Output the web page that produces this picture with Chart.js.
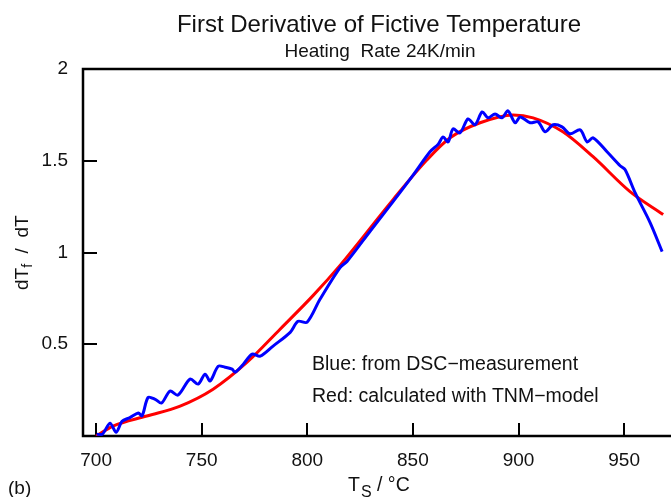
<!DOCTYPE html>
<html>
<head>
<meta charset="utf-8">
<title>First Derivative of Fictive Temperature</title>
<script src="https://cdn.jsdelivr.net/npm/chart.js@4.4.1/dist/chart.umd.min.js"></script>
<style>
  html, body { margin: 0; padding: 0; background: #fff; }
  canvas { display: block; }
</style>
</head>
<body>
<canvas id="chart" width="671" height="497"></canvas>
<script>
// DSC measurement (blue)
const dscTemp = [700.3, 703, 706.6, 709.5, 712.3, 716, 720, 721.8, 724.6, 728, 731, 735, 738.8, 744.5, 748.3,
    751.6, 754, 757.8, 761, 764.4, 765.8, 769.6, 773.9, 777.7, 783.8, 791.9, 795.6, 799.9, 806, 815.5,
    818.8, 830, 840.6, 850, 858.1, 862, 864.3, 866.7, 869, 872.3, 876.1, 879.4, 882.8, 885.6, 888.9,
    892.2, 895, 898.4, 900.8, 905.5, 909.3, 912.6, 916.4, 920.6, 924.4, 929.2, 932.5, 935.3, 941.9,
    948.1, 950.5, 955.2, 962.3, 968];
const dscValues = [0.01, 0.01, 0.07, 0.02, 0.08, 0.10, 0.125, 0.11, 0.21, 0.20, 0.18, 0.245, 0.223, 0.31, 0.283,
    0.337, 0.30, 0.38, 0.375, 0.364, 0.348, 0.39, 0.446, 0.435, 0.49, 0.565, 0.625, 0.62, 0.745, 0.918,
    0.951, 1.12, 1.277, 1.42, 1.549, 1.59, 1.63, 1.603, 1.674, 1.652, 1.728, 1.696, 1.766, 1.734, 1.755,
    1.734, 1.772, 1.707, 1.739, 1.707, 1.712, 1.658, 1.696, 1.685, 1.647, 1.668, 1.603, 1.625, 1.549,
    1.473, 1.451, 1.326, 1.163, 1.005];

// TNM model (red)
const tnmTemp = [700, 708, 724, 739.8, 755.4, 771.5, 787.1, 802.7, 815.5, 840.6, 856.7, 867.6, 881.8,
    897.4, 906.9, 921, 935.3, 952.8, 968.5];
const tnmValues = [0.0, 0.054, 0.109, 0.163, 0.255, 0.402, 0.582, 0.765, 0.93, 1.288, 1.505, 1.625, 1.707,
    1.75, 1.734, 1.658, 1.522, 1.332, 1.207];

const xTicks = [700, 750, 800, 850, 900, 950];
const yTicks = [0.5, 1, 1.5, 2];
const yTickLabels = ['0.5', '1', '1.5', '2'];

const FONT = '"Liberation Sans", Arial, Helvetica, sans-serif';

const framePlugin = {
    id: 'frame',
    beforeDatasetsDraw(chart) {
        const { ctx, chartArea: a, scales: { x, y } } = chart;
        ctx.save();
        ctx.strokeStyle = '#000';
        ctx.lineWidth = 2.5;
        ctx.beginPath();
        ctx.moveTo(a.right + 2, a.top);
        ctx.lineTo(a.left, a.top);
        ctx.lineTo(a.left, a.bottom);
        ctx.lineTo(a.right + 2, a.bottom);
        ctx.stroke();
        // inward ticks
        ctx.lineWidth = 2;
        ctx.beginPath();
        xTicks.forEach(v => {
            const px = Math.round(x.getPixelForValue(v));
            ctx.moveTo(px, a.bottom);
            ctx.lineTo(px, a.bottom - 13);
        });
        yTicks.slice(0, 3).forEach(v => {
            const py = Math.round(y.getPixelForValue(v));
            ctx.moveTo(a.left, py);
            ctx.lineTo(a.left + 14, py);
        });
        ctx.stroke();
        ctx.restore();
    },
    afterDraw(chart) {
        const { ctx, chartArea: a, scales: { x, y } } = chart;
        ctx.save();
        ctx.fillStyle = '#111';

        // tick labels
        ctx.font = '19px ' + FONT;
        ctx.textAlign = 'center';
        ctx.textBaseline = 'alphabetic';
        xTicks.forEach(v => ctx.fillText(String(v), x.getPixelForValue(v), 466));
        ctx.textAlign = 'right';
        ctx.textBaseline = 'middle';
        yTicks.forEach((v, i) => ctx.fillText(yTickLabels[i], 68, y.getPixelForValue(v)));

        // titles
        ctx.textAlign = 'center';
        ctx.textBaseline = 'alphabetic';
        ctx.font = '24px ' + FONT;
        ctx.fillText('First Derivative of Fictive Temperature', 379, 32);
        ctx.font = '19px ' + FONT;
        ctx.fillText('Heating  Rate 24K/min', 380, 57);

        // notes inside the plot
        ctx.textAlign = 'left';
        ctx.font = '19.5px ' + FONT;
        ctx.fillText('Blue: from DSC\u2212measurement', 312, 370);
        ctx.fillText('Red: calculated with TNM\u2212model', 312, 402);

        // x axis title: T_S / °C
        let cx = 348;
        ctx.font = '19.5px ' + FONT;
        ctx.fillText('T', cx, 491);
        cx += ctx.measureText('T').width + 1;
        ctx.font = '16px ' + FONT;
        ctx.fillText('S', cx, 497);
        cx += ctx.measureText('S').width;
        ctx.font = '19.5px ' + FONT;
        ctx.fillText(' / \u00B0C', cx, 491);

        // y axis title: dT_f / dT
        ctx.save();
        ctx.translate(28, 290);
        ctx.rotate(-Math.PI / 2);
        let cy = 0;
        ctx.font = '19px ' + FONT;
        ctx.fillText('dT', cy, 0);
        cy += ctx.measureText('dT').width;
        ctx.font = '14px ' + FONT;
        ctx.fillText('f', cy, 4);
        cy += ctx.measureText('f').width;
        ctx.font = '19px ' + FONT;
        ctx.fillText('  /  dT', cy, 0);
        ctx.restore();

        // panel letter
        ctx.font = '19px ' + FONT;
        ctx.fillText('(b)', 8, 494);
        ctx.restore();
    }
};

new Chart(document.getElementById('chart'), {
    type: 'line',
    data: {
        datasets: [
            {
                label: 'DSC measurement',
                data: dscTemp.map((t, i) => ({ x: t, y: dscValues[i] })),
                borderColor: '#0000ff',
                borderWidth: 3,
                pointRadius: 0,
                tension: 0.3,
                fill: false
            },
            {
                label: 'TNM model',
                data: tnmTemp.map((t, i) => ({ x: t, y: tnmValues[i] })),
                borderColor: '#ff0000',
                borderWidth: 3,
                pointRadius: 0,
                cubicInterpolationMode: 'monotone',
                fill: false
            }
        ]
    },
    options: {
        responsive: false,
        animation: false,
        layout: { padding: { left: 83, top: 69, right: 0, bottom: 61 } },
        plugins: { legend: { display: false }, tooltip: { enabled: false } },
        scales: {
            x: { type: 'linear', min: 693.8, max: 972.2, display: false },
            y: { type: 'linear', min: 0, max: 2, display: false }
        }
    },
    plugins: [framePlugin]
});
</script>
</body>
</html>
